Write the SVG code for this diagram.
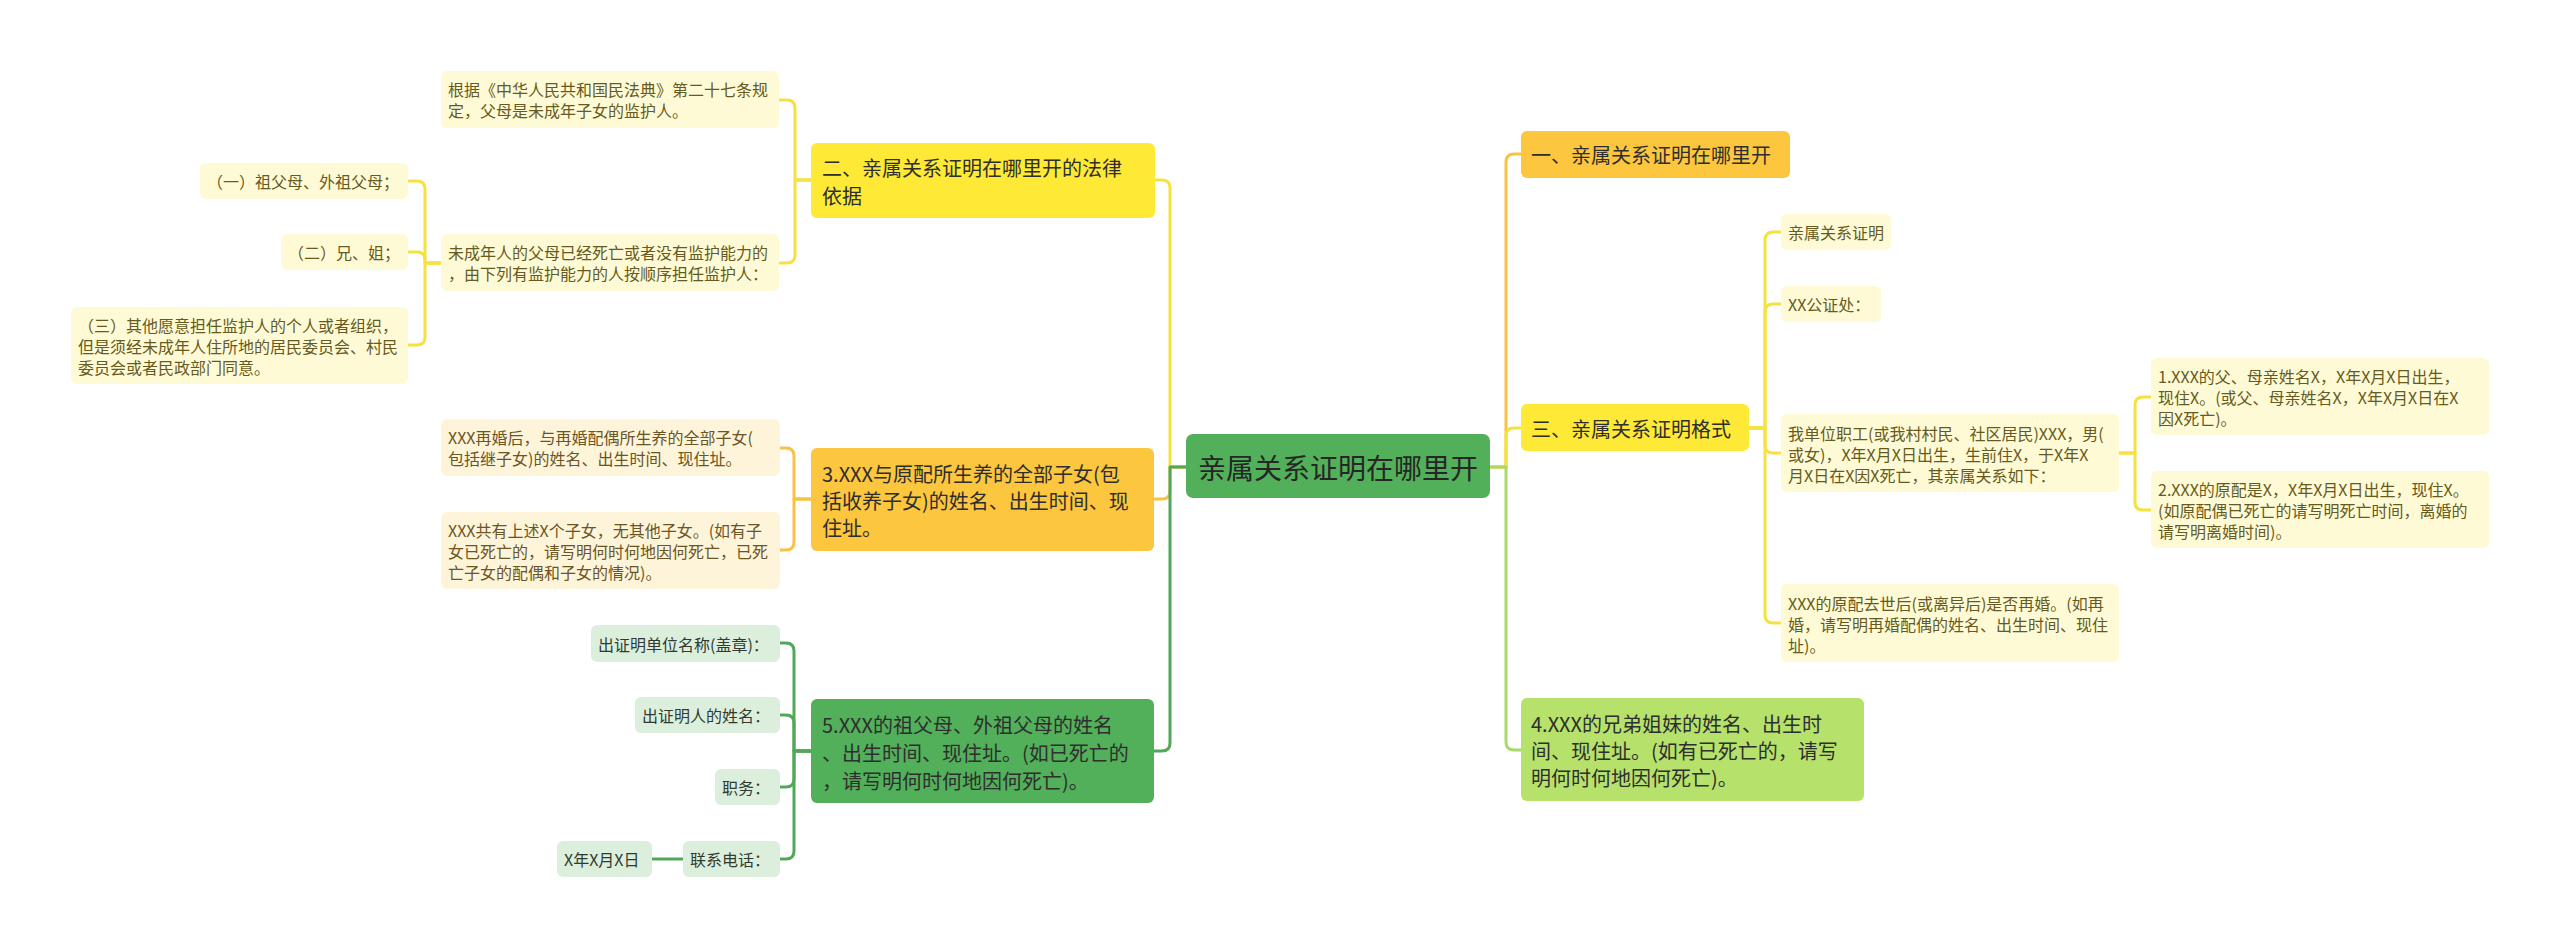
<svg xmlns="http://www.w3.org/2000/svg" width="2560" height="947" viewBox="0 0 2560 947">
<style>
text{font-family:"Noto Sans CJK SC","Noto Sans",sans-serif;dominant-baseline:central}
.c{fill:none;stroke-width:3;stroke-linecap:round;stroke-linejoin:round}
.cy{stroke:#f6e23e}.co{stroke:#f8c244}.cg{stroke:#52a85a}.cl{stroke:#a8d96a}
.root{fill:#52b05a}.rt{font-size:28px;fill:#262626}
.ny{fill:#fde936}.no{fill:#fcc63e}.ng{fill:#52b05a}.nl{fill:#b6e26b}
.mt{font-size:20px;fill:#2e2e2e}
.sy{fill:#fefad6}.so{fill:#fef4da}.sg{fill:#dcefdd}
.ty{font-size:16px;fill:#665a20}.to{font-size:16px;fill:#6b5522}.tg{font-size:16px;fill:#2f3b30}
</style>
<rect width="2560" height="947" fill="#ffffff"/>
<g id="connectors">
<path class="c cy" d="M1186,467 H1170 V188 Q1170,180 1162,180 H1155"/>
<path class="c co" d="M1186,467 H1170 V491 Q1170,499 1162,499 H1154"/>
<path class="c cg" d="M1186,467 H1170 V743 Q1170,751 1162,751 H1154"/>
<path class="c co" d="M1490,467 H1506 V162 Q1506,154 1514,154 H1521"/>
<path class="c cy" d="M1490,467 H1506 V436 Q1506,428 1514,428 H1521"/>
<path class="c cl" d="M1490,467 H1506 V742 Q1506,750 1514,750 H1521"/>
<path class="c cy" d="M811,180 H795 V108 Q795,100 787,100 H779"/>
<path class="c cy" d="M811,180 H795 V255 Q795,263 787,263 H779"/>
<path class="c cy" d="M441,263 H425 V189 Q425,181 417,181 H408"/>
<path class="c cy" d="M441,263 H425 V260 Q425,252 417,252 H408"/>
<path class="c cy" d="M441,263 H425 V337 Q425,345 417,345 H408"/>
<path class="c co" d="M811,499 H794 V456 Q794,448 786,448 H780"/>
<path class="c co" d="M811,499 H794 V542 Q794,550 786,550 H780"/>
<path class="c cg" d="M811,751 H794 V651 Q794,643 786,643 H780"/>
<path class="c cg" d="M811,751 H794 V723 Q794,715 786,715 H780"/>
<path class="c cg" d="M811,751 H794 V779 Q794,787 786,787 H780"/>
<path class="c cg" d="M811,751 H794 V851 Q794,859 786,859 H780"/>
<path class="c cg" d="M683,859 H652"/>
<path class="c cy" d="M1749,428 H1765 V240 Q1765,232 1773,232 H1781"/>
<path class="c cy" d="M1749,428 H1765 V312 Q1765,304 1773,304 H1781"/>
<path class="c cy" d="M1749,428 H1765 V445 Q1765,453 1773,453 H1781"/>
<path class="c cy" d="M1749,428 H1765 V615 Q1765,623 1773,623 H1781"/>
<path class="c cy" d="M2119,453 H2135 V405 Q2135,397 2143,397 H2151"/>
<path class="c cy" d="M2119,453 H2135 V502 Q2135,510 2143,510 H2151"/>
</g>
<g id="root">
<rect class="root" x="1186" y="434" width="304" height="64" rx="7"/>
<text class="rt" x="1338" y="467" text-anchor="middle">亲属关系证明在哪里开</text>
</g>
<g id="n1">
<rect class="no" x="1521" y="131" width="269" height="47" rx="6"/>
<text class="mt" x="1531" y="154">一、亲属关系证明在哪里开</text>
</g>
<g id="n3">
<rect class="ny" x="1521" y="404" width="228" height="47" rx="6"/>
<text class="mt" x="1531" y="428">三、亲属关系证明格式</text>
</g>
<g id="n3a">
<rect class="sy" x="1781" y="214" width="110" height="36" rx="6"/>
<text class="ty" x="1788" y="232">亲属关系证明</text>
</g>
<g id="n3b">
<rect class="sy" x="1781" y="286" width="100" height="36" rx="6"/>
<text class="ty" x="1788" y="304">XX公证处：</text>
</g>
<g id="n3c">
<rect class="sy" x="1781" y="414" width="338" height="78" rx="6"/>
<text class="ty" x="1788" y="433">我单位职工(或我村村民、社区居民)XXX，男(</text>
<text class="ty" x="1788" y="454">或女)，X年X月X日出生，生前住X，于X年X</text>
<text class="ty" x="1788" y="475">月X日在X因X死亡，其亲属关系如下：</text>
</g>
<g id="n3c1">
<rect class="sy" x="2151" y="358" width="338" height="77" rx="6"/>
<text class="ty" x="2158" y="376">1.XXX的父、母亲姓名X，X年X月X日出生，</text>
<text class="ty" x="2158" y="397">现住X。(或父、母亲姓名X，X年X月X日在X</text>
<text class="ty" x="2158" y="418">因X死亡)。</text>
</g>
<g id="n3c2">
<rect class="sy" x="2151" y="471" width="338" height="77" rx="6"/>
<text class="ty" x="2158" y="489">2.XXX的原配是X，X年X月X日出生，现住X。</text>
<text class="ty" x="2158" y="510">(如原配偶已死亡的请写明死亡时间，离婚的</text>
<text class="ty" x="2158" y="531">请写明离婚时间)。</text>
</g>
<g id="n3d">
<rect class="sy" x="1781" y="584" width="338" height="78" rx="6"/>
<text class="ty" x="1788" y="603">XXX的原配去世后(或离异后)是否再婚。(如再</text>
<text class="ty" x="1788" y="624">婚，请写明再婚配偶的姓名、出生时间、现住</text>
<text class="ty" x="1788" y="645">址)。</text>
</g>
<g id="n4">
<rect class="nl" x="1521" y="698" width="343" height="103" rx="6"/>
<text class="mt" x="1531" y="723">4.XXX的兄弟姐妹的姓名、出生时</text>
<text class="mt" x="1531" y="750">间、现住址。(如有已死亡的，请写</text>
<text class="mt" x="1531" y="777">明何时何地因何死亡)。</text>
</g>
<g id="n2">
<rect class="ny" x="811" y="143" width="344" height="75" rx="6"/>
<text class="mt" x="822" y="167">二、亲属关系证明在哪里开的法律</text>
<text class="mt" x="822" y="195">依据</text>
</g>
<g id="n2a">
<rect class="sy" x="441" y="71" width="338" height="57" rx="6"/>
<text class="ty" x="448" y="89">根据《中华人民共和国民法典》第二十七条规</text>
<text class="ty" x="448" y="110">定，父母是未成年子女的监护人。</text>
</g>
<g id="n2b">
<rect class="sy" x="441" y="234" width="338" height="57" rx="6"/>
<text class="ty" x="448" y="252">未成年人的父母已经死亡或者没有监护能力的</text>
<text class="ty" x="448" y="273">，由下列有监护能力的人按顺序担任监护人：</text>
</g>
<g id="n2b1">
<rect class="sy" x="200" y="163" width="208" height="36" rx="6"/>
<text class="ty" x="207" y="181">（一）祖父母、外祖父母；</text>
</g>
<g id="n2b2">
<rect class="sy" x="281" y="234" width="127" height="36" rx="6"/>
<text class="ty" x="288" y="252">（二）兄、姐；</text>
</g>
<g id="n2b3">
<rect class="sy" x="71" y="307" width="337" height="77" rx="6"/>
<text class="ty" x="78" y="325">（三）其他愿意担任监护人的个人或者组织，</text>
<text class="ty" x="78" y="346">但是须经未成年人住所地的居民委员会、村民</text>
<text class="ty" x="78" y="367">委员会或者民政部门同意。</text>
</g>
<g id="n5x3">
<rect class="no" x="811" y="448" width="343" height="103" rx="6"/>
<text class="mt" x="822" y="473">3.XXX与原配所生养的全部子女(包</text>
<text class="mt" x="822" y="500">括收养子女)的姓名、出生时间、现</text>
<text class="mt" x="822" y="527">住址。</text>
</g>
<g id="n5x3a">
<rect class="so" x="441" y="419" width="339" height="57" rx="6"/>
<text class="to" x="448" y="437">XXX再婚后，与再婚配偶所生养的全部子女(</text>
<text class="to" x="448" y="458">包括继子女)的姓名、出生时间、现住址。</text>
</g>
<g id="n5x3b">
<rect class="so" x="441" y="512" width="339" height="77" rx="6"/>
<text class="to" x="448" y="530">XXX共有上述X个子女，无其他子女。(如有子</text>
<text class="to" x="448" y="551">女已死亡的，请写明何时何地因何死亡，已死</text>
<text class="to" x="448" y="572">亡子女的配偶和子女的情况)。</text>
</g>
<g id="n5">
<rect class="ng" x="811" y="699" width="343" height="104" rx="6"/>
<text class="mt" x="822" y="724">5.XXX的祖父母、外祖父母的姓名</text>
<text class="mt" x="822" y="752">、出生时间、现住址。(如已死亡的</text>
<text class="mt" x="822" y="780">，请写明何时何地因何死亡)。</text>
</g>
<g id="n5a">
<rect class="sg" x="591" y="625" width="189" height="37" rx="6"/>
<text class="tg" x="598" y="644">出证明单位名称(盖章)：</text>
</g>
<g id="n5b">
<rect class="sg" x="635" y="697" width="145" height="36" rx="6"/>
<text class="tg" x="642" y="715">出证明人的姓名：</text>
</g>
<g id="n5c">
<rect class="sg" x="715" y="769" width="65" height="36" rx="6"/>
<text class="tg" x="722" y="787">职务：</text>
</g>
<g id="n5d">
<rect class="sg" x="683" y="841" width="97" height="36" rx="6"/>
<text class="tg" x="690" y="859">联系电话：</text>
</g>
<g id="n5d1">
<rect class="sg" x="557" y="841" width="95" height="36" rx="6"/>
<text class="tg" x="564" y="859">X年X月X日</text>
</g>
</svg>
